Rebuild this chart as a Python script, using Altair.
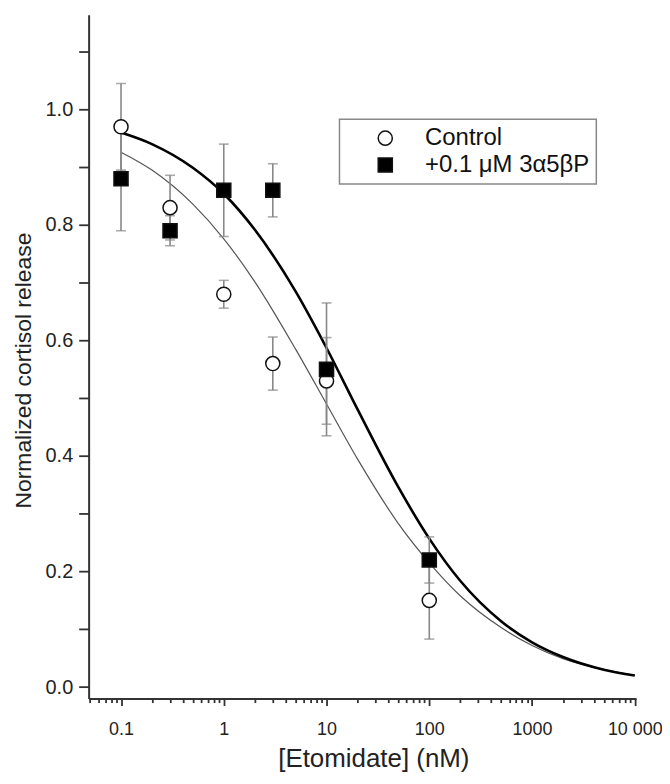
import altair as alt
import pandas as pd

# ---- data ----
conc = [0.1, 0.3, 1, 3, 10, 100]
control_y = [0.97, 0.83, 0.68, 0.56, 0.53, 0.15]
control_err = [0.075, 0.056, 0.024, 0.046, 0.075, 0.067]
steroid_y = [0.88, 0.79, 0.86, 0.86, 0.55, 0.22]
steroid_err = [0.09, 0.026, 0.08, 0.046, 0.115, 0.04]

fit_x = [0.1, 0.2, 0.5, 1, 2, 5, 10, 20, 50, 100, 200, 500, 1000, 2000, 5000, 10000]
fit_control = [0.926, 0.895, 0.836, 0.776, 0.702, 0.585, 0.490, 0.395, 0.283, 0.215,
               0.158, 0.103, 0.072, 0.049, 0.030, 0.020]
fit_steroid = [0.960, 0.940, 0.899, 0.854, 0.792, 0.685, 0.587, 0.481, 0.346, 0.257,
               0.184, 0.114, 0.0775, 0.052, 0.030, 0.020]

series_names = ["Control", "+0.1 \u03bcM 3\u03b15\u03b2P"]

x_major = [0.1, 1, 10, 100, 1000, 10000]
x_minor = [0.05, 0.06, 0.07, 0.08, 0.09,
           0.2, 0.3, 0.4, 0.5, 0.6, 0.7, 0.8, 0.9,
           2, 3, 4, 5, 6, 7, 8, 9,
           20, 30, 40, 50, 60, 70, 80, 90,
           200, 300, 400, 500, 600, 700, 800, 900,
           2000, 3000, 4000, 5000, 6000, 7000, 8000, 9000]
y_ticks = [0.0, 0.1, 0.2, 0.3, 0.4, 0.5, 0.6, 0.7, 0.8, 0.9, 1.0, 1.1]

# ---- tables ----
pts = pd.DataFrame({
    "series": [series_names[0]] * len(conc) + [series_names[1]] * len(conc),
    "x": conc + conc,
    "y": control_y + steroid_y,
    "err": control_err + steroid_err,
})
pts["lo"] = pts["y"] - pts["err"]
pts["hi"] = pts["y"] + pts["err"]

fit_c = pd.DataFrame({"x": fit_x, "y": fit_control})
fit_s = pd.DataFrame({"x": fit_x, "y": fit_steroid})

FONT = "Liberation Sans"
xscale = alt.Scale(type="log", domain=[0.0484, 10300], nice=False)
yscale = alt.Scale(domain=[-0.02, 1.164], nice=False, zero=False)

major_test = "indexof([0.1,1,10,100,1000,10000], datum.value) >= 0"

x_axis = alt.Axis(
    values=x_major + x_minor,
    labelExpr="indexof([0.1,1,10,100,1000,10000], datum.value) < 0 ? '' : "
              "(datum.value >= 10000 ? '10 000' : (datum.value >= 1 ? format(datum.value, 'd') : format(datum.value, '.1f')))",
    tickSize={"condition": {"test": major_test, "value": 7}, "value": 4},
    labelFontSize=18,
    labelPadding=15,
    title="[Etomidate] (nM)",
    titleFontSize=26,
    titleBaseline="alphabetic",
    titleX=286,
    titleY=68,
    titleAlign="center",
    grid=False,
)
y_axis = alt.Axis(
    values=y_ticks,
    labelExpr="round(datum.value*10) % 2 == 0 ? format(datum.value, '.1f') : ''",
    tickSize=10,
    labelFontSize=20,
    labelPadding=6,
    title="Normalized cortisol release",
    titleFontSize=23,
    titleBaseline="alphabetic",
    titleAngle=270,
    titleX=-58,
    titleY=357,
    titleAlign="center",
    grid=False,
)

line_c = alt.Chart(fit_c).mark_line(color="#555555", strokeWidth=1.2, interpolate="monotone").encode(
    x=alt.X("x:Q", scale=xscale, axis=x_axis),
    y=alt.Y("y:Q", scale=yscale, axis=y_axis),
)
line_s = alt.Chart(fit_s).mark_line(color="#000000", strokeWidth=2.6, interpolate="monotone").encode(
    x=alt.X("x:Q", scale=xscale),
    y=alt.Y("y:Q", scale=yscale),
)

err_rule = alt.Chart(pts).mark_rule(color="#888888", strokeWidth=1.6).encode(
    x=alt.X("x:Q", scale=xscale),
    y=alt.Y("lo:Q", scale=yscale),
    y2="hi:Q",
)
cap_lo = alt.Chart(pts).mark_tick(color="#888888", orient="horizontal", size=10, thickness=1.6).encode(
    x=alt.X("x:Q", scale=xscale),
    y=alt.Y("lo:Q", scale=yscale),
)
cap_hi = alt.Chart(pts).mark_tick(color="#888888", orient="horizontal", size=10, thickness=1.6).encode(
    x=alt.X("x:Q", scale=xscale),
    y=alt.Y("hi:Q", scale=yscale),
)

leg = dict(title=None, orient="none", legendX=252, legendY=105,
           symbolStrokeWidth=1.5)

points = alt.Chart(pts).mark_point(size=200, strokeWidth=1.5, opacity=1).encode(
    x=alt.X("x:Q", scale=xscale),
    y=alt.Y("y:Q", scale=yscale),
    shape=alt.Shape("series:N", scale=alt.Scale(domain=series_names, range=["circle", "square"]),
                    legend=alt.Legend(**leg)),
    fill=alt.Fill("series:N", scale=alt.Scale(domain=series_names, range=["white", "black"]),
                  legend=alt.Legend(**leg)),
    stroke=alt.Stroke("series:N", scale=alt.Scale(domain=series_names, range=["#111111", "#111111"]),
                      legend=alt.Legend(**leg)),
)

chart = alt.layer(line_c, line_s, err_rule, cap_lo, cap_hi, points).properties(
    width=550,
    height=687,
    autosize=alt.AutoSizeParams(type="none"),
    padding={"left": 81, "top": 5, "right": 26, "bottom": 72},
).configure_view(
    stroke=None
).configure_axis(
    domainColor="#333333",
    domainWidth=2,
    tickColor="#333333",
    tickWidth=1.8,
    labelFont=FONT,
    labelColor="#222222",
    titleFont=FONT,
    titleFontWeight="normal",
    titleColor="#222222",
).configure_legend(
    strokeColor="#888888",
    strokeWidth=1.5,
    fillColor="white",
    padding=7,
    labelFont=FONT,
    labelFontSize=24,
    labelColor="#111111",
    symbolSize=200,
    symbolOffset=27,
    labelOffset=28,
    rowPadding=3,
    labelLimit=400,
)

chart.save("out.html", embed_options={"renderer": "svg", "actions": False})
